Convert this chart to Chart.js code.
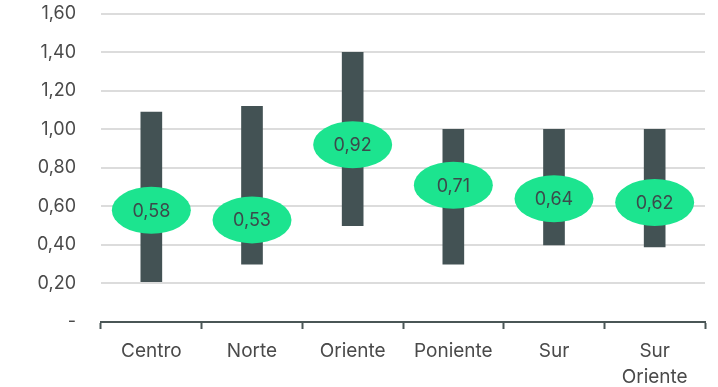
<!DOCTYPE html>
<html>
<head>
<meta charset="utf-8">
<script src="https://cdn.jsdelivr.net/npm/chart.js@4.4.1/dist/chart.umd.min.js"></script>
<style>
    html, body { margin: 0; padding: 0; background: #fff; }
    #wrap { width: 718px; height: 387px; }
</style>
</head>
<body>
<div id="wrap"><canvas id="rangeChart"></canvas></div>
<script>
'use strict';

const zonas = ['Centro', 'Norte', 'Oriente', 'Poniente', 'Sur', ['Sur', 'Oriente']];
const minimos = [0.21, 0.30, 0.50, 0.30, 0.40, 0.39];
const maximos = [1.09, 1.12, 1.40, 1.00, 1.00, 1.00];
const promedios = [0.58, 0.53, 0.92, 0.71, 0.64, 0.62];
const yTicks = [0, 0.2, 0.4, 0.6, 0.8, 1.0, 1.2, 1.4, 1.6];

const fmt = v => v === 0 ? '-' : v.toFixed(2).replace('.', ',');

const ellipsePlugin = {
    id: 'ellipses',
    afterDatasetsDraw(chart) {
        const meta = chart.getDatasetMeta(1);
        const ctx = chart.ctx;
        ctx.save();
        meta.data.forEach((pt, i) => {
            ctx.beginPath();
            ctx.ellipse(pt.x, pt.y, 39.5, 23.5, 0, 0, Math.PI * 2);
            ctx.fillStyle = '#1ce48f';
            ctx.fill();
            ctx.fillStyle = '#3c4a4b';
            ctx.font = '18px Inter';
            ctx.textAlign = 'center';
            ctx.textBaseline = 'middle';
            ctx.fillText(fmt(promedios[i]), pt.x, pt.y + 1);
        });
        ctx.restore();
    }
};

new Chart(document.getElementById('rangeChart'), {
    type: 'bar',
    data: {
        labels: zonas,
        datasets: [{
            label: 'Rango',
            data: minimos.map((m, i) => [m, maximos[i]]),
            backgroundColor: '#435254',
            barThickness: 21,
            order: 2
        }, {
            type: 'line',
            label: 'Promedio',
            data: promedios,
            showLine: false,
            pointRadius: 0,
            order: 1
        }]
    },
    options: {
        responsive: true,
        maintainAspectRatio: false,
        animation: false,
        layout: { padding: { top: 0, right: 13, left: 0, bottom: 0 } },
        plugins: {
            legend: { display: false },
            tooltip: { enabled: false }
        },
        scales: {
            x: {
                afterFit: axis => { axis.height = 65; },
                grid: {
                    display: true,
                    drawOnChartArea: false,
                    drawTicks: true,
                    tickLength: 7,
                    tickWidth: 2,
                    tickColor: '#4a5656',
                    offset: true
                },
                border: { display: true, color: '#4a5656', width: 2 },
                ticks: {
                    color: '#4a4a4a',
                    font: { family: 'Inter', size: 19, lineHeight: 1.37 },
                    padding: 9,
                    maxRotation: 0
                }
            },
            y: {
                min: 0,
                max: 1.6,
                afterBuildTicks: axis => { axis.ticks = yTicks.map(v => ({ value: v })); },
                afterFit: axis => { axis.width = 101; },
                grid: {
                    color: '#dcdcdc',
                    lineWidth: 2,
                    drawTicks: true,
                    tickLength: 22,
                    tickColor: 'rgba(0,0,0,0)'
                },
                border: { display: false },
                ticks: {
                    color: '#4a4a4a',
                    font: { family: 'Inter', size: 18 },
                    padding: 3,
                    callback: v => fmt(v)
                }
            }
        }
    },
    plugins: [ellipsePlugin]
});
</script>
</body>
</html>
